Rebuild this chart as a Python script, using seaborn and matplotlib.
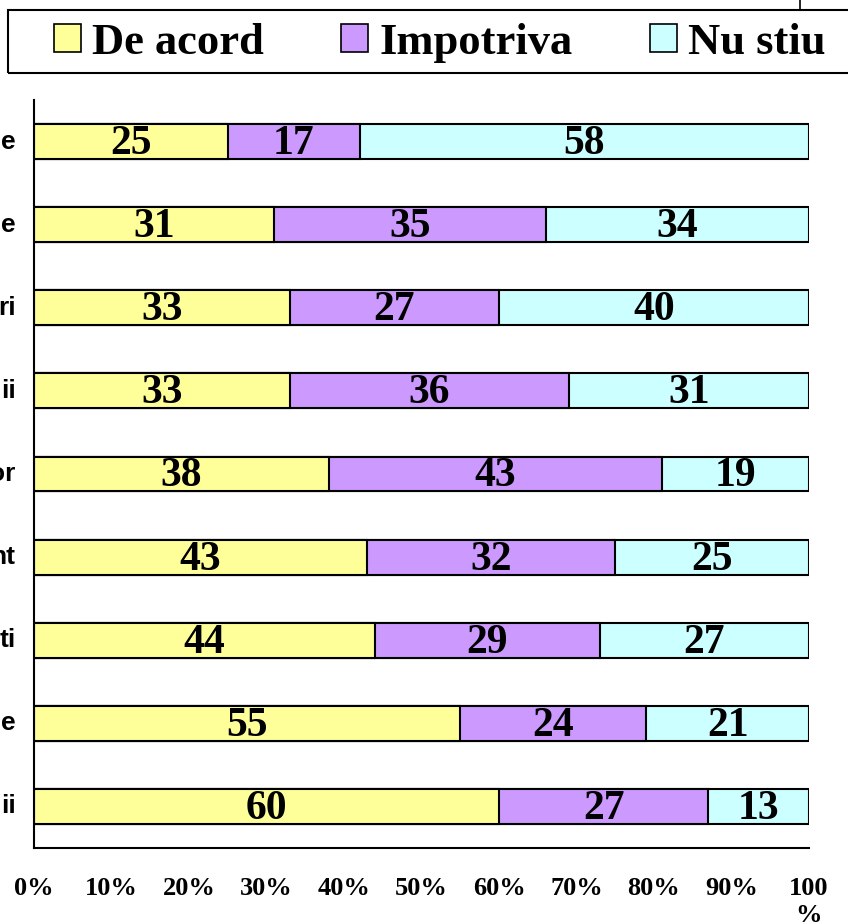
import matplotlib
matplotlib.use('Agg')
import matplotlib.pyplot as plt
from matplotlib.patches import Rectangle, Patch
from matplotlib.lines import Line2D
import seaborn as sns
import pandas as pd

# date (etichetele din stanga sunt taiate in imagine)
categorii = ['e', 'e ', 'ri', 'ii', 'or', 'nt', 'ti', 'e  ', 'ii ']
de_acord = [25, 31, 33, 33, 38, 43, 44, 55, 60]
impotriva = [17, 35, 27, 36, 43, 32, 29, 24, 27]
nu_stiu = [58, 34, 40, 31, 19, 25, 27, 21, 13]
serii = ['De acord', 'Impotriva', 'Nu stiu']
culori = ['#FFFF99', '#CC99FF', '#CCFFFF']
x_ticks = [0, 10, 20, 30, 40, 50, 60, 70, 80, 90, 100]
x_labels = ['0%', '10%', '20%', '30%', '40%', '50%', '60%', '70%', '80%', '90%', '100\n%']

sns.set_style('white')
plt.rcParams['font.family'] = ['Liberation Serif', 'DejaVu Serif']
plt.rcParams['font.weight'] = 'bold'
plt.rcParams['text.color'] = 'black'
plt.rcParams['xtick.color'] = 'black'
plt.rcParams['ytick.color'] = 'black'

df = pd.DataFrame({'cat': categorii, 'De acord': de_acord,
                   'Impotriva': impotriva, 'Nu stiu': nu_stiu})
df['c1'] = df['De acord']
df['c2'] = df['De acord'] + df['Impotriva']
df['c3'] = df['c2'] + df['Nu stiu']

W, H = 848, 923
fig = plt.figure(figsize=(W / 100, H / 100), dpi=100)
ax = fig.add_axes([34 / W, 1 - 848 / H, (809 - 34) / W, (848 - 100) / H])

# barele cumulate, de la cea mai lunga la cea mai scurta
for col, c in zip(['c3', 'c2', 'c1'], culori[::-1]):
    sns.barplot(data=df, x=col, y='cat', orient='h', color=c, saturation=1,
                edgecolor='black', linewidth=1.5, width=0.42, ax=ax)

# valorile in segmente
for i, row in df.iterrows():
    start = 0
    for s in serii:
        v = row[s]
        ax.text(start + v / 2, i + 0.03, str(v), ha='center', va='center',
                fontsize=30, fontweight='bold', color='black')
        start += v

ax.set_xlim(0, 100)
ax.set_ylim(len(categorii) - 0.5, -0.5)
ax.set_xlabel('')
ax.set_ylabel('')

ax.set_xticks(x_ticks)
ax.set_xticklabels(x_labels, fontsize=19, fontweight='bold', color='black')
ax.set_yticks([k - 0.5 for k in range(len(categorii) + 1)])
ax.set_yticklabels([])
ax.tick_params(axis='both', direction='out', length=6, width=1.5, color='black')
ax.tick_params(axis='x', pad=15)

for i, lab in enumerate(categorii):
    ax.text(-0.024, i, lab.strip(), transform=ax.get_yaxis_transform(),
            ha='right', va='center', fontsize=19, fontweight='bold', color='black',
            family=['Liberation Sans', 'DejaVu Sans'], clip_on=False)

for sp in ['top', 'right']:
    ax.spines[sp].set_visible(False)
for sp in ['left', 'bottom']:
    ax.spines[sp].set_color('black')
    ax.spines[sp].set_linewidth(1.5)

# legenda
handles = [Patch(facecolor=c, edgecolor='black', linewidth=1.2, label=s)
           for s, c in zip(serii, culori)]
leg = fig.legend(handles=handles, loc='center left', ncol=3,
                 bbox_to_anchor=(54 / W, 1 - 43 / H), frameon=False,
                 prop={'family': 'Liberation Serif', 'weight': 'bold', 'size': 32},
                 handlelength=0.6, handleheight=0.6, handletextpad=0.25,
                 columnspacing=1.75, borderpad=0, borderaxespad=0)
for t in leg.get_texts():
    t.set_color('black')
fig.patches.append(Rectangle((8 / W, 1 - 73 / H), 900 / W, 63 / H,
                             transform=fig.transFigure, fill=False,
                             edgecolor='black', linewidth=1.5, clip_on=False))
fig.lines.append(Line2D([800 / W, 800 / W], [1, 1 - 10 / H],
                        transform=fig.transFigure, color='black', linewidth=1.2))

fig.savefig('out.png', dpi=100)
